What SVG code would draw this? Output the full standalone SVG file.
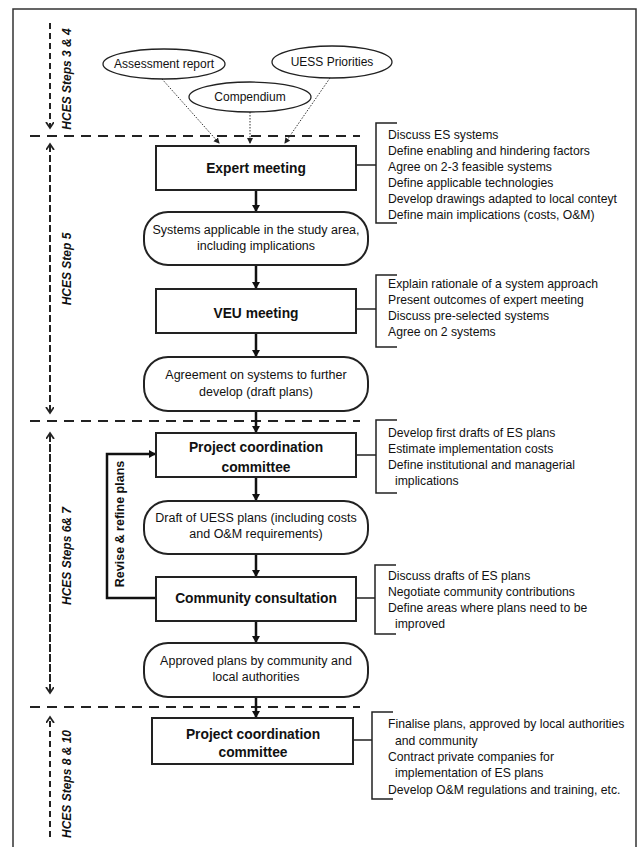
<svg xmlns="http://www.w3.org/2000/svg" width="639" height="847" viewBox="0 0 639 847">
<defs>
<style>
text{font-family:"Liberation Sans",Arial,sans-serif;fill:#111}
.t{font-size:12px;text-anchor:middle}
.r{font-size:12.5px;text-anchor:middle}
.b{font-size:13.8px;font-weight:bold;text-anchor:middle}
.l{font-size:12.2px}
.v{font-size:12px;font-weight:bold;font-style:italic;text-anchor:middle}
.box{fill:#fff;stroke:#222;stroke-width:2}
.rbox{fill:#fff;stroke:#222;stroke-width:2}
.ell{fill:#fff;stroke:#222;stroke-width:1.3}
.arr{stroke:#111;stroke-width:2.5;fill:none;marker-end:url(#ah)}
.dot{stroke:#333;stroke-width:1;stroke-dasharray:1.5 1.5;fill:none;marker-end:url(#sh)}
.hd{stroke:#222;stroke-width:2;stroke-dasharray:10 7;fill:none}
.vd{stroke:#222;stroke-width:2;stroke-dasharray:6 4;fill:none}
.br{stroke:#222;stroke-width:1.5;fill:none}
</style>
<marker id="ah" markerWidth="10" markerHeight="10" refX="6" refY="4" orient="auto" markerUnits="userSpaceOnUse">
<path d="M0,0 L7,4 L0,8 z" fill="#111"/>
</marker>
<marker id="sh" markerWidth="8" markerHeight="8" refX="5" refY="3" orient="auto" markerUnits="userSpaceOnUse">
<path d="M0,0 L6,3 L0,6 z" fill="#222"/>
</marker>
<marker id="vh" markerWidth="10" markerHeight="10" refX="5" refY="4" orient="auto" markerUnits="userSpaceOnUse">
<path d="M0,0 L6,4 L0,8" fill="none" stroke="#222" stroke-width="1.8"/>
</marker>
</defs>
<rect width="639" height="847" fill="#fff"/>
<path d="M13,850 L13,9 L636,9 L636,850" fill="none" stroke="#333" stroke-width="1.5"/>

<g id="phase-lines">
<line class="hd" x1="30" y1="136" x2="360" y2="136"/>
<line class="hd" x1="30" y1="421" x2="360" y2="421"/>
<line class="hd" x1="30" y1="707" x2="360" y2="707"/>
<path class="vd" d="M50,23 L50,127" marker-end="url(#vh)"/>
<path class="vd" d="M50,412 L50,145" marker-end="url(#vh)"/>
<path class="vd" d="M50,145 L50,412" marker-end="url(#vh)"/>
<path class="vd" d="M50,692 L50,434" marker-end="url(#vh)"/>
<path class="vd" d="M50,434 L50,692" marker-end="url(#vh)"/>
<path class="vd" d="M50,837 L50,718" marker-end="url(#vh)"/>
<text class="v" transform="translate(71,79) rotate(-90)">HCES Steps 3 &amp; 4</text>
<text class="v" transform="translate(71,269) rotate(-90)">HCES Step 5</text>
<text class="v" transform="translate(71,556) rotate(-90)">HCES Steps 6&amp; 7</text>
<text class="v" transform="translate(71,784) rotate(-90)">HCES Steps 8 &amp; 10</text>
</g>

<g id="connectors">
<path class="dot" d="M162,79 L219,143"/>
<path class="dot" d="M250,112 L250,143"/>
<path class="dot" d="M330,78 L285,143"/>
<path class="arr" d="M256,190 L256,211"/>
<path class="arr" d="M256,265 L256,288"/>
<path class="arr" d="M256,333 L256,356"/>
<path class="arr" d="M256,411 L256,432"/>
<path class="arr" d="M256,477 L256,500"/>
<path class="arr" d="M256,554 L256,576"/>
<path class="arr" d="M256,621 L256,642"/>
<path class="arr" d="M256,697 L256,717"/>
<path d="M156,598 L107,598 L107,454 L155,454" stroke="#111" stroke-width="2.5" fill="none" marker-end="url(#ah)"/>
<text class="b" style="font-size:12.5px" transform="translate(124,524) rotate(-90)">Revise &amp; refine  plans</text>
</g>

<g id="assessment-report">
<ellipse class="ell" cx="164" cy="64" rx="61" ry="15"/>
<text class="t" x="164" y="68">Assessment report</text>
</g>
<g id="compendium">
<ellipse class="ell" cx="250" cy="97" rx="61" ry="15"/>
<text class="t" x="250" y="101">Compendium</text>
</g>
<g id="uess-priorities">
<ellipse class="ell" cx="332" cy="62" rx="60" ry="16"/>
<text class="t" x="332" y="66">UESS Priorities</text>
</g>

<g id="expert-meeting">
<rect class="box" x="156" y="146" width="200" height="44"/>
<text class="b" x="256" y="173">Expert meeting</text>
<path class="br" d="M356,165 L376,165 M397,123 L376,123 L376,223 L397,223"/>
<text class="l" x="388" y="139">Discuss ES systems</text>
<text class="l" x="388" y="155">Define enabling and hindering factors</text>
<text class="l" x="388" y="171">Agree on 2-3 feasible systems</text>
<text class="l" x="388" y="187">Define applicable technologies</text>
<text class="l" x="388" y="203">Develop drawings adapted to local conteyt</text>
<text class="l" x="388" y="219">Define main implications (costs, O&amp;M)</text>
</g>

<g id="systems-applicable">
<rect class="rbox" x="144" y="212" width="224" height="53" rx="24"/>
<text class="r" x="256" y="234">Systems applicable in the study area,</text>
<text class="r" x="256" y="250">including implications</text>
</g>

<g id="veu-meeting">
<rect class="box" x="156" y="289" width="200" height="44"/>
<text class="b" x="256" y="318">VEU meeting</text>
<path class="br" d="M356,309 L376,309 M397,275 L376,275 L376,347 L397,347"/>
<text class="l" x="388" y="288">Explain rationale of a system approach</text>
<text class="l" x="388" y="304">Present outcomes of expert meeting</text>
<text class="l" x="388" y="320">Discuss pre-selected systems</text>
<text class="l" x="388" y="336">Agree on 2 systems</text>
</g>

<g id="agreement">
<rect class="rbox" x="144" y="357" width="224" height="54" rx="24"/>
<text class="r" x="256" y="379">Agreement on systems to further</text>
<text class="r" x="256" y="396">develop (draft plans)</text>
</g>

<g id="pcc-1">
<rect class="box" x="156" y="433" width="200" height="44"/>
<text class="b" x="256" y="452">Project coordination</text>
<text class="b" x="256" y="472">committee</text>
<path class="br" d="M356,455 L376,455 M397,420 L376,420 L376,493 L397,493"/>
<text class="l" x="388" y="437">Develop first drafts of  ES plans</text>
<text class="l" x="388" y="453">Estimate implementation costs</text>
<text class="l" x="388" y="469">Define institutional and managerial</text>
<text class="l" x="395" y="485">implications</text>
</g>

<g id="draft-plans">
<rect class="rbox" x="144" y="501" width="224" height="53" rx="24"/>
<text class="r" x="256" y="522">Draft of UESS plans (including costs</text>
<text class="r" x="256" y="538">and O&amp;M requirements)</text>
</g>

<g id="community-consultation">
<rect class="box" x="156" y="577" width="200" height="44"/>
<text class="b" x="256" y="603">Community consultation</text>
<path class="br" d="M356,598 L375,598 M396,565 L375,565 L375,634 L396,634"/>
<text class="l" x="388" y="580">Discuss drafts of  ES plans</text>
<text class="l" x="388" y="596">Negotiate community contributions</text>
<text class="l" x="388" y="612">Define areas where plans need to be</text>
<text class="l" x="395" y="628">improved</text>
</g>

<g id="approved-plans">
<rect class="rbox" x="144" y="643" width="224" height="54" rx="24"/>
<text class="r" x="256" y="665">Approved plans  by community and</text>
<text class="r" x="256" y="681">local authorities</text>
</g>

<g id="pcc-2">
<rect class="box" x="152" y="718" width="201" height="46"/>
<text class="b" x="253" y="739">Project coordination</text>
<text class="b" x="253" y="757">committee</text>
<path class="br" d="M353,740 L372,740 M393,712 L372,712 L372,799 L393,799"/>
<text class="l" x="388" y="728">Finalise plans, approved by local authorities</text>
<text class="l" x="395" y="745">and community</text>
<text class="l" x="388" y="761">Contract private companies for</text>
<text class="l" x="395" y="777">implementation of ES plans</text>
<text class="l" x="388" y="794">Develop O&amp;M regulations and training, etc.</text>
</g>
</svg>
